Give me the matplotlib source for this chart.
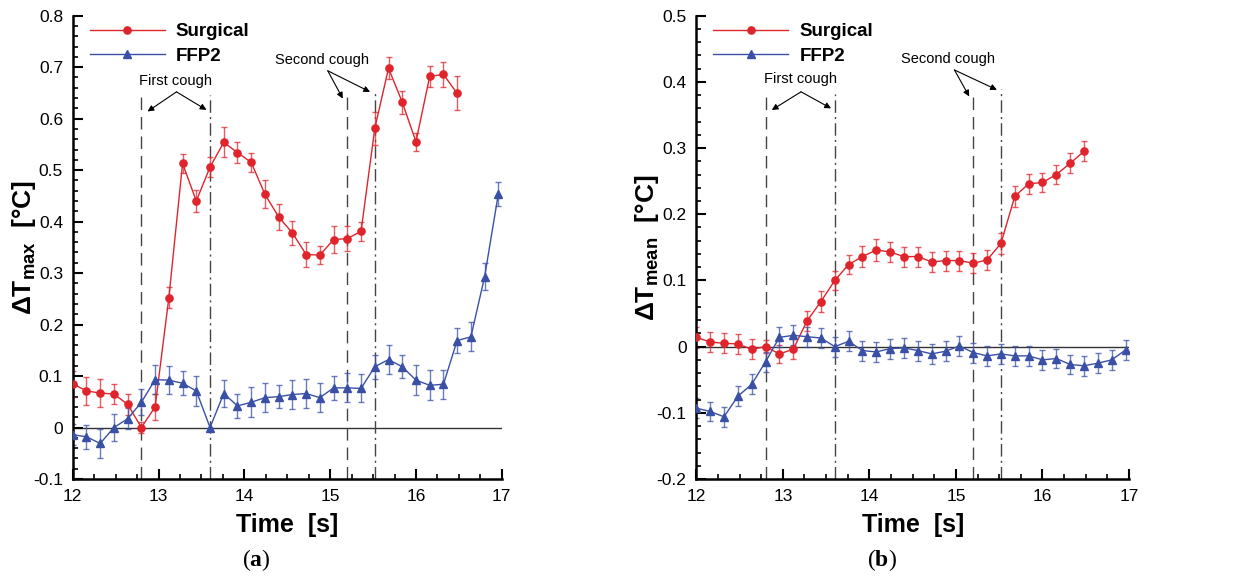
import numpy as np
import matplotlib
matplotlib.use('Agg')
from matplotlib import pyplot as plt
from matplotlib.ticker import MultipleLocator

plt.rcParams['font.family'] = ['Liberation Sans', 'DejaVu Sans']
plt.rcParams['mathtext.fontset'] = 'custom'
plt.rcParams['mathtext.rm'] = 'Liberation Sans'
plt.rcParams['mathtext.bf'] = 'Liberation Sans:bold'
plt.rcParams['mathtext.sf'] = 'Liberation Serif:bold'

# time axis, 0.16 s sampling
t_surgical = [12.0, 12.16, 12.32, 12.48, 12.64, 12.8, 12.96, 13.12, 13.28, 13.44,
              13.6, 13.76, 13.92, 14.08, 14.24, 14.4, 14.56, 14.72, 14.88, 15.04,
              15.2, 15.36, 15.52, 15.68, 15.84, 16.0, 16.16, 16.32, 16.48]
t_ffp2 = t_surgical + [16.64, 16.8, 16.96]

# (a) delta T max
surg_max = [0.085, 0.071, 0.067, 0.065, 0.045, 0.0, 0.040, 0.252, 0.513, 0.440,
            0.506, 0.554, 0.534, 0.515, 0.453, 0.409, 0.378, 0.336, 0.335, 0.365,
            0.367, 0.381, 0.581, 0.698, 0.632, 0.555, 0.682, 0.686, 0.649]
surg_max_err = [0.025, 0.027, 0.027, 0.019, 0.021, 0.01, 0.025, 0.02, 0.018, 0.021,
                0.02, 0.029, 0.02, 0.018, 0.027, 0.026, 0.023, 0.025, 0.018, 0.026,
                0.025, 0.019, 0.032, 0.021, 0.022, 0.018, 0.021, 0.025, 0.033]
ffp2_max = [-0.014, -0.018, -0.031, 0.0, 0.017, 0.049, 0.093, 0.092, 0.086, 0.071,
            0.0, 0.066, 0.042, 0.049, 0.058, 0.060, 0.064, 0.066, 0.058, 0.077,
            0.077, 0.076, 0.118, 0.132, 0.118, 0.092, 0.082, 0.084, 0.169, 0.176,
            0.293, 0.454]
ffp2_max_err = [0.02, 0.023, 0.029, 0.027, 0.02, 0.025, 0.028, 0.027, 0.023, 0.029,
                0.0, 0.027, 0.023, 0.029, 0.028, 0.023, 0.029, 0.029, 0.028, 0.023,
                0.028, 0.027, 0.023, 0.028, 0.022, 0.029, 0.029, 0.028, 0.024, 0.028,
                0.026, 0.023]

# (b) delta T mean
surg_mean = [0.014, 0.007, 0.005, 0.004, -0.004, 0.0, -0.011, -0.004, 0.039, 0.068,
             0.100, 0.124, 0.136, 0.146, 0.143, 0.136, 0.136, 0.128, 0.130, 0.130,
             0.126, 0.131, 0.156, 0.227, 0.246, 0.248, 0.260, 0.277, 0.295]
surg_mean_err = [0.016, 0.015, 0.015, 0.015, 0.015, 0.01, 0.014, 0.015, 0.015, 0.016,
                 0.015, 0.015, 0.016, 0.016, 0.015, 0.015, 0.015, 0.015, 0.015, 0.015,
                 0.015, 0.015, 0.016, 0.016, 0.015, 0.015, 0.015, 0.015, 0.015]
ffp2_mean = [-0.093, -0.098, -0.106, -0.075, -0.057, -0.023, 0.014, 0.017, 0.015, 0.013,
             0.0, 0.008, -0.006, -0.008, -0.003, -0.002, -0.006, -0.011, -0.007, 0.001,
             -0.009, -0.014, -0.011, -0.014, -0.014, -0.020, -0.018, -0.027, -0.029, -0.025,
             -0.020, -0.005]
ffp2_mean_err = [0.015] * 32

cough_dash = [12.8, 15.2]
cough_dashdot = [13.6, 15.52]

RED = '#e0242c'
BLUE = '#3a50a6'

fig = plt.figure(figsize=(12.35, 5.88), dpi=100)
ax1 = fig.add_axes([0.0589, 0.1854, 0.3474, 0.7879])
ax2 = fig.add_axes([0.5638, 0.1854, 0.3504, 0.7879])


def draw_panel(ax, s, s_err, f, f_err, ylim, ylabel, vtop, first_txt, second_txt):
    ax.axhline(0, color='#333333', lw=1.0, zorder=1)
    for x, top in zip(cough_dash, vtop[:2]):
        ax.plot([x, x], [ylim[0], top], color='#444444', lw=1.0, ls=(0, (9, 5)), zorder=1)
    for x, top in zip(cough_dashdot, vtop[2:]):
        ax.plot([x, x], [ylim[0], top], color='#444444', lw=1.0, ls=(0, (9, 3, 1.5, 3)), zorder=1)

    ax.errorbar(t_surgical, s, yerr=s_err, fmt='none', ecolor=RED, alpha=0.75,
                elinewidth=1.0, capsize=2.2, capthick=1.0, zorder=2)
    ax.errorbar(t_ffp2, f, yerr=f_err, fmt='none', ecolor=BLUE, alpha=0.75,
                elinewidth=1.0, capsize=2.2, capthick=1.0, zorder=2)
    ax.plot(t_surgical, s, color=RED, lw=1.0, marker='o', ms=5.2, label='Surgical', zorder=3)
    ax.plot(t_ffp2, f, color=BLUE, lw=1.0, marker='^', ms=5.2, label='FFP2', zorder=3)

    # annotations
    for label, ((tx, ty), (sx, sy), tips) in (('First cough', first_txt),
                                                ('Second cough', second_txt)):
        ax.text(tx, ty, label, ha='center', va='center', fontsize=10.5)
        for tip in tips:
            ax.annotate('', xy=tip, xytext=(sx, sy),
                        arrowprops=dict(arrowstyle='-|>', lw=0.8, color='black',
                                        mutation_scale=9, shrinkA=0, shrinkB=0))

    ax.set_xlim(12, 17)
    ax.set_ylim(*ylim)
    ax.xaxis.set_major_locator(MultipleLocator(1))
    ax.xaxis.set_minor_locator(MultipleLocator(0.25))
    ax.yaxis.set_major_locator(MultipleLocator(0.1))
    ax.yaxis.set_minor_locator(MultipleLocator(0.02))
    ax.yaxis.set_major_formatter(lambda v, p: '0' if abs(v) < 1e-9 else f'{v:.1f}')
    ax.spines['top'].set_visible(False)
    ax.spines['right'].set_visible(False)
    for sp in ('left', 'bottom'):
        ax.spines[sp].set_linewidth(1.8)
    ax.tick_params(which='both', direction='in', labelsize=12.5, width=1.5, pad=7)
    ax.tick_params(which='major', length=7)
    ax.tick_params(which='minor', length=3.5, width=1.2)
    ax.set_xlabel('Time  [s]', fontsize=18, fontweight='bold', labelpad=7)
    ax.set_ylabel(ylabel, fontsize=19, fontweight='bold', va='center')
    ax.yaxis.set_label_coords(-0.113, 0.5)

    ax.legend(loc='upper left', bbox_to_anchor=(0.0, 1.02), frameon=False,
              handlelength=4.0, handletextpad=0.6, labelspacing=0.38,
              prop={'weight': 'bold', 'size': 13.5})


draw_panel(ax1, surg_max, surg_max_err, ffp2_max, ffp2_max_err, (-0.1, 0.8),
           r'$\mathbf{\Delta T_{max}}$  [°C]', [0.645, 0.645, 0.645, 0.656],
           ((13.2, 0.674), (13.209, 0.652), [(12.872, 0.614), (13.558, 0.617)]),
           ((14.905, 0.713), (14.972, 0.693), [(15.147, 0.639), (15.465, 0.652)]))
draw_panel(ax2, surg_mean, surg_mean_err, ffp2_mean, ffp2_mean_err, (-0.2, 0.5),
           r'$\mathbf{\Delta T_{mean}}$  [°C]', [0.381, 0.381, 0.381, 0.390],
           ((13.205, 0.404), (13.21, 0.385), [(12.872, 0.3575), (13.557, 0.360)]),
           ((14.913, 0.4346), (14.983, 0.418), [(15.153, 0.378), (15.473, 0.388)]))

fig.text(256.7 / 1235, 1 - 560 / 588, r'($\mathsf{a}$)', ha='center', va='center',
         fontsize=17, family='Liberation Serif')
fig.text(881.7 / 1235, 1 - 560 / 588, r'($\mathsf{b}$)', ha='center', va='center',
         fontsize=17, family='Liberation Serif')

plt.savefig('out.png', dpi=100)
